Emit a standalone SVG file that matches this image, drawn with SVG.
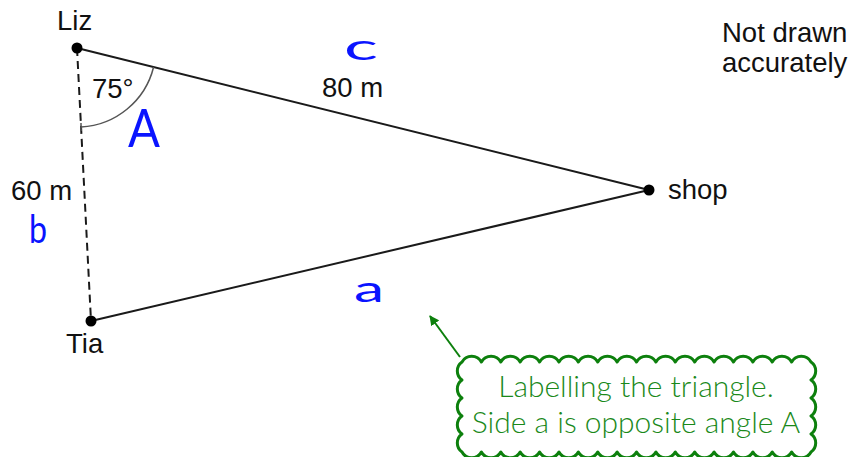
<svg xmlns="http://www.w3.org/2000/svg" width="862" height="457" viewBox="0 0 862 457">
<defs>
<style>
.lbl{font-family:"Liberation Sans",Arial,sans-serif;font-size:27.5px;fill:#111}
.hand{font-family:Lato,"DejaVu Sans",sans-serif;font-weight:400;fill:#0a14ff}
.note{font-family:Lato,"Open Sans",sans-serif;font-weight:300;font-size:30px;fill:#1a891a}
.side{stroke:#1a1a1a;stroke-width:2;fill:none}
</style>
<marker id="ah" viewBox="0 0 10 10" refX="9" refY="5" markerWidth="5" markerHeight="5" orient="auto">
<path d="M0,0 L10,5 L0,10 z" fill="#0d800d"/>
</marker>
</defs>
<rect width="862" height="457" fill="#fff"/>
<g id="connectors">
<line class="side" x1="77" y1="48" x2="649" y2="190"/>
<line class="side" x1="91" y1="321" x2="649" y2="190"/>
<line class="side" x1="77" y1="48" x2="91" y2="321" stroke-dasharray="8,5"/>
<path d="M153.6,67 A79,79 0 0 1 81,127" fill="none" stroke="#555" stroke-width="1.5"/>
<line x1="81" y1="123" x2="81" y2="131" stroke="#555" stroke-width="1.5"/>
<line x1="460" y1="357" x2="430" y2="316" stroke="#0d800d" stroke-width="2" marker-end="url(#ah)"/>
</g>
<g id="liz">
<circle cx="77" cy="48" r="5.5" fill="#000"/>
<text class="lbl" x="57" y="30">Liz</text>
</g>
<g id="tia">
<circle cx="91" cy="321" r="5.5" fill="#000"/>
<text class="lbl" x="66" y="353">Tia</text>
</g>
<g id="shop">
<circle cx="649" cy="190" r="5.5" fill="#000"/>
<text class="lbl" x="668" y="199">shop</text>
</g>
<g id="labels">
<text class="lbl" x="92" y="98">75°</text>
<text class="lbl" x="322" y="97">80 m</text>
<text class="lbl" x="11" y="200">60 m</text>
<text class="lbl" x="722" y="42">Not drawn</text>
<text class="lbl" x="722" y="72">accurately</text>
</g>
<g id="hand">
<text class="hand" x="128" y="147" font-size="52" textLength="32" lengthAdjust="spacingAndGlyphs">A</text>
<text class="hand" x="344" y="60" font-size="36" textLength="34" lengthAdjust="spacingAndGlyphs">c</text>
<text class="hand" x="29" y="243" font-size="39" textLength="18" lengthAdjust="spacingAndGlyphs">b</text>
<text class="hand" x="354" y="302" font-size="37" textLength="30" lengthAdjust="spacingAndGlyphs">a</text>
</g>
<g id="callout">
<path fill="#fff" stroke="#0d800d" stroke-width="3" stroke-linejoin="round" d="M462,362 a11,11 0 0 1 19.39,0 a11,11 0 0 1 19.39,0 a11,11 0 0 1 19.39,0 a11,11 0 0 1 19.39,0 a11,11 0 0 1 19.39,0 a11,11 0 0 1 19.39,0 a11,11 0 0 1 19.39,0 a11,11 0 0 1 19.39,0 a11,11 0 0 1 19.39,0 a11,11 0 0 1 19.39,0 a11,11 0 0 1 19.39,0 a11,11 0 0 1 19.39,0 a11,11 0 0 1 19.39,0 a11,11 0 0 1 19.39,0 a11,11 0 0 1 19.39,0 a11,11 0 0 1 19.39,0 a11,11 0 0 1 19.39,0 a11,11 0 0 1 19.39,0 a11,11 0 0 1 0,18 a11,11 0 0 1 0,18 a11,11 0 0 1 0,18 a11,11 0 0 1 0,18 a11,11 0 0 1 0,18 a11,11 0 0 1 -19.39,0 a11,11 0 0 1 -19.39,0 a11,11 0 0 1 -19.39,0 a11,11 0 0 1 -19.39,0 a11,11 0 0 1 -19.39,0 a11,11 0 0 1 -19.39,0 a11,11 0 0 1 -19.39,0 a11,11 0 0 1 -19.39,0 a11,11 0 0 1 -19.39,0 a11,11 0 0 1 -19.39,0 a11,11 0 0 1 -19.39,0 a11,11 0 0 1 -19.39,0 a11,11 0 0 1 -19.39,0 a11,11 0 0 1 -19.39,0 a11,11 0 0 1 -19.39,0 a11,11 0 0 1 -19.39,0 a11,11 0 0 1 -19.39,0 a11,11 0 0 1 -19.39,0 a11,11 0 0 1 0,-18 a11,11 0 0 1 0,-18 a11,11 0 0 1 0,-18 a11,11 0 0 1 0,-18 a11,11 0 0 1 0,-18 z"/>
<text class="note" x="636" y="397" text-anchor="middle">Labelling the triangle.</text>
<text class="note" x="636" y="433" text-anchor="middle">Side a is opposite angle A</text>
</g>
</svg>
